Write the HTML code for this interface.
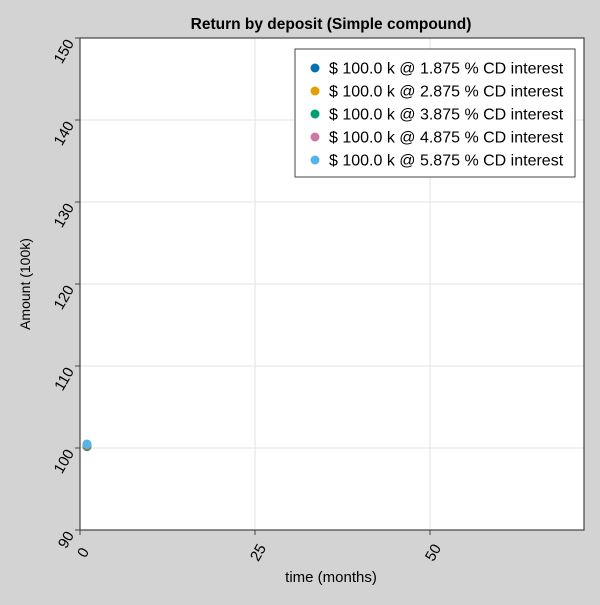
<!DOCTYPE html>
<html><head><meta charset="utf-8"><style>
body{margin:0;background:#d3d3d3;font-family:"Liberation Sans",sans-serif}
</style></head><body>
<svg width="600" height="600" xmlns="http://www.w3.org/2000/svg" font-family="Liberation Sans, sans-serif">
<rect width="600" height="600" fill="#d3d3d3"/>
<rect x="80" y="38" width="504" height="492" fill="#fff"/>
<g id="grid"></g>
<g id="ticks"></g>
<rect x="80" y="38" width="504" height="492" fill="none" stroke="#444" stroke-width="1.2"/>
<g id="pts"></g>
<text x="331" y="29" text-anchor="middle" font-weight="bold" font-size="15.5">Return by deposit (Simple compound)</text>
<text x="331" y="582" text-anchor="middle" font-size="15">time (months)</text>
<text transform="translate(30,284) rotate(-90)" text-anchor="middle" font-size="14">Amount (100k)</text>
<g id="legend"></g>
</svg>
<script>
const xTicks=[0,25,50];
const yTicks=[90,100,110,120,130,140,150];
const labels=["$ 100.0 k @ 1.875 % CD interest","$ 100.0 k @ 2.875 % CD interest","$ 100.0 k @ 3.875 % CD interest","$ 100.0 k @ 4.875 % CD interest","$ 100.0 k @ 5.875 % CD interest"];
const months=[1,1,1,1,1];
const amounts=[100.156,100.240,100.323,100.406,100.490];
const colors=["#0072b2","#e69f00","#009e73","#cc79a7","#56b4e9"];
const NS="http://www.w3.org/2000/svg";
const X=v=>80+v*7;
const Y=v=>530-(v-90)*(492/60);
function mk(t,a,p){const e=document.createElementNS(NS,t);for(const k in a)e.setAttribute(k,a[k]);p.appendChild(e);return e;}
const grid=document.getElementById('grid'),ticks=document.getElementById('ticks');
xTicks.forEach(v=>{
 const l=mk('line',{x1:X(v),x2:X(v),y1:38,y2:530,stroke:'#e3e3e3'},grid);
 
 
 const tk=mk('line',{x1:X(v),x2:X(v),y1:530,y2:535,stroke:'#444'},ticks);
 
 
 const t=mk('text',{transform:`translate(${X(v)+4},${553}) rotate(-60)`,'text-anchor':'middle','dominant-baseline':'middle','font-size':15},ticks);
 t.textContent=v;
 
 
});
yTicks.forEach(v=>{
 const l=mk('line',{x1:80,x2:584,y1:Y(v),y2:Y(v),stroke:'#e3e3e3'},grid);
 
 
 const tk=mk('line',{x1:75,x2:80,y1:Y(v),y2:Y(v),stroke:'#444'},ticks);
 
 
 const t=mk('text',{transform:`translate(${71},${Y(v)+3}) rotate(-60)`,'text-anchor':'end','dominant-baseline':'middle','font-size':15},ticks);
 t.textContent=v;
 
 
});
const pts=document.getElementById('pts');
amounts.forEach((a,i)=>{
 const c=mk('circle',{cx:X(months[i]),cy:Y(a),r:4.5,fill:colors[i]},pts);
 
 
});
const lg=document.getElementById('legend');
const box=mk('rect',{x:295,y:49,width:280,height:128,fill:'#fff',stroke:'#444'},lg);


labels.forEach((s,i)=>{
 const y=68+i*23;
 const c=mk('circle',{cx:315,cy:y,r:4.5,fill:colors[i]},lg);
 
 
 const t=mk('text',{x:329,y:y+5.5,'font-size':16},lg);
 t.textContent=s;
 
 
});
</script>
</body></html>
